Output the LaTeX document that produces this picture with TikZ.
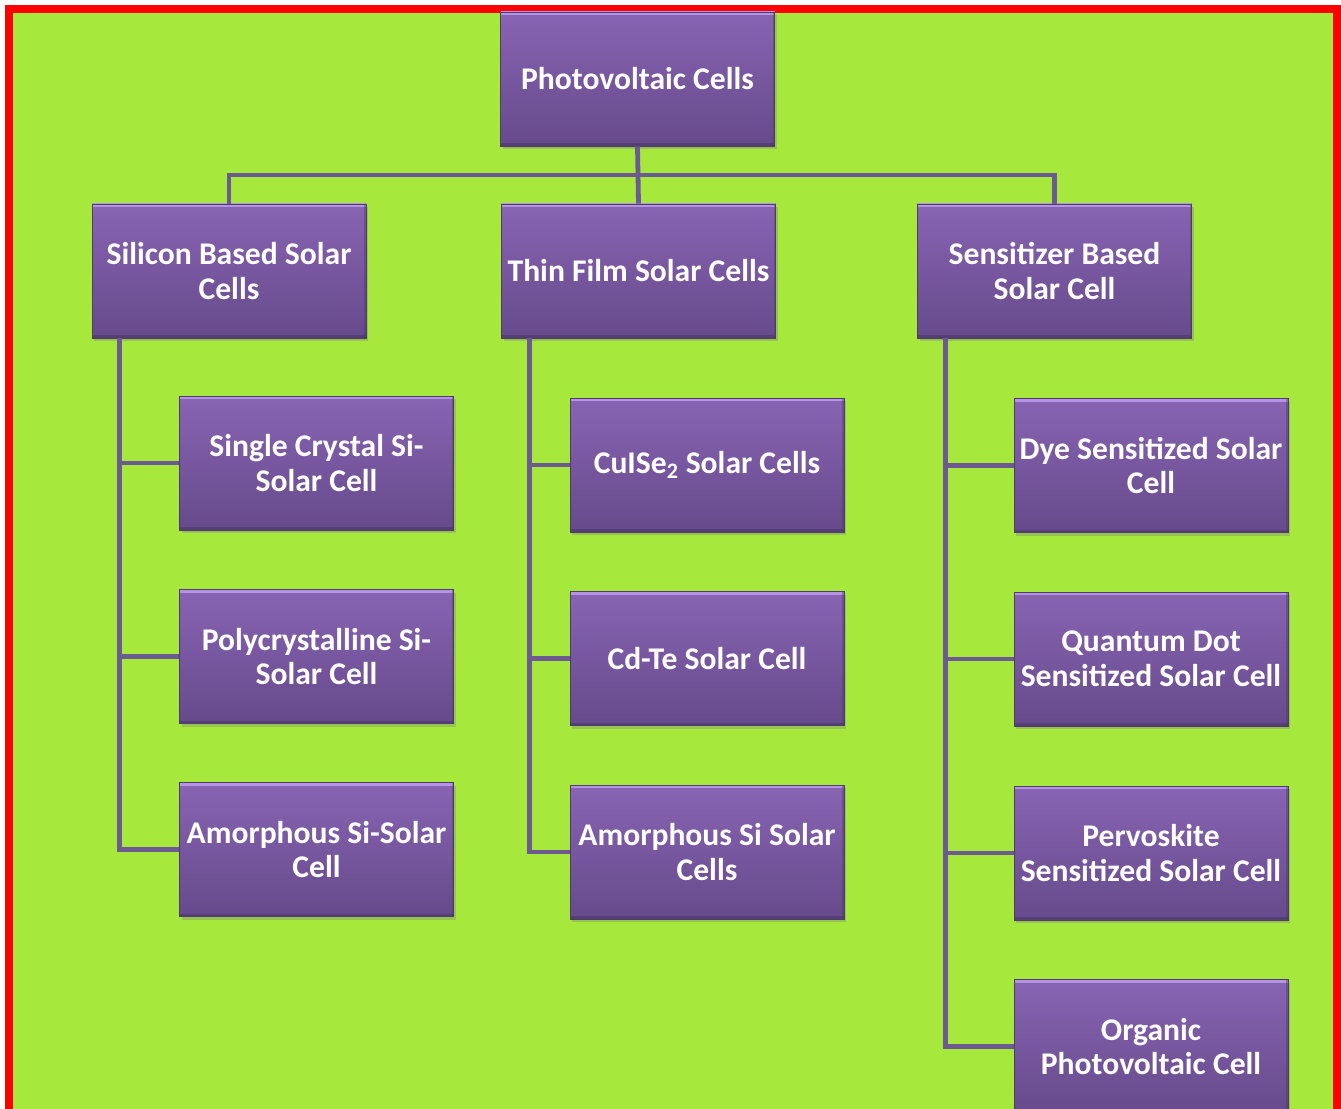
\documentclass[tikz,border=0pt]{standalone}
\usepackage{fontspec}
\setmainfont{Carlito}
\usetikzlibrary{shadows}

\definecolor{leafgreen}{HTML}{A6E83C}
\definecolor{framered}{HTML}{FF0000}
\definecolor{boxtop}{HTML}{8864B3}
\definecolor{boxbottom}{HTML}{664A8B}
\definecolor{boxedge}{HTML}{4F3C6E}
\definecolor{bevlight}{HTML}{B594E6}
\definecolor{bevdark}{HTML}{4A3766}
\definecolor{linkpurple}{HTML}{6E5A92}

\tikzset{every picture/.style={line width=0.75pt}}
\tikzset{
  cellbox/.style={rectangle, minimum width=205.5pt, minimum height=100.5pt, inner sep=2pt,
    top color=boxtop, bottom color=boxbottom, draw=boxedge, line width=0.6pt,
    text=white, font=\fontsize{23.7}{26}\selectfont\bfseries, align=center,
    drop shadow={shadow xshift=1.5pt, shadow yshift=-2.5pt, opacity=0.35},
    path picture={
      \draw[bevlight, line width=5pt] (path picture bounding box.north west) -- (path picture bounding box.north east);
      \draw[bevdark, line width=4pt, opacity=0.6] (path picture bounding box.south west) -- (path picture bounding box.south east);
      \draw[bevdark, line width=3pt, opacity=0.4] (path picture bounding box.north east) -- (path picture bounding box.south east);
    }},
  link/.style={draw=linkpurple, line width=3.6pt}
}

\begin{document}
\begin{tikzpicture}[x=0.75pt,y=0.75pt,yscale=-1,xscale=1]

\useasboundingbox (0,0) rectangle (1341,1109);
\clip (0,0) rectangle (1341,1109);
\fill[white] (0,0) rectangle (1341,1109);
\fill[framered] (5,5) rectangle (1350,1130);
\fill[leafgreen] (13,13) rectangle (1333,1130);

% top level
\draw (637.5,79) node [cellbox] (root) {Photovoltaic Cells};

\draw (229,271) node [cellbox] (sil) {Silicon Based Solar\\Cells};
\draw (638.5,271) node [cellbox] (thin) {Thin Film Solar Cells};
\draw (1054.5,271) node [cellbox] (sens) {Sensitizer Based\\Solar Cell};

% silicon branch
\draw (316.5,463) node [cellbox] (sil1) {Single Crystal Si-\\Solar Cell};
\draw (316.5,656.5) node [cellbox] (sil2) {Polycrystalline Si-\\Solar Cell};
\draw (316.5,849.5) node [cellbox] (sil3) {Amorphous Si-Solar\\Cell};

% thin film branch
\draw (707,465) node [cellbox] (thin1) {CuISe\textsubscript{2} Solar Cells};
\draw (707,658.5) node [cellbox] (thin2) {Cd-Te Solar Cell};
\draw (707,852) node [cellbox] (thin3) {Amorphous Si Solar\\Cells};

% sensitizer branch
\draw (1151,465.5) node [cellbox] (sens1) {Dye Sensitized Solar\\Cell};
\draw (1151,659) node [cellbox] (sens2) {Quantum Dot\\Sensitized Solar Cell};
\draw (1151,853) node [cellbox] (sens3) {Pervoskite\\Sensitized Solar Cell};
\draw (1151,1046.5) node [cellbox] (sens4) {Organic\\Photovoltaic Cell};

% connectors
\coordinate (bar) at (638,175);
\draw[link] (root.south) -- (thin.north);
\draw[link] (sil.north) |- (bar) -| (sens.north);

\draw[link] ([xshift=21pt]sil.south west) |- (sil1.west);
\draw[link] ([xshift=21pt]sil.south west) |- (sil2.west);
\draw[link] ([xshift=21pt]sil.south west) |- (sil3.west);

\draw[link] ([xshift=21pt]thin.south west) |- (thin1.west);
\draw[link] ([xshift=21pt]thin.south west) |- (thin2.west);
\draw[link] ([xshift=21pt]thin.south west) |- (thin3.west);

\draw[link] ([xshift=21pt]sens.south west) |- (sens1.west);
\draw[link] ([xshift=21pt]sens.south west) |- (sens2.west);
\draw[link] ([xshift=21pt]sens.south west) |- (sens3.west);
\draw[link] ([xshift=21pt]sens.south west) |- (sens4.west);

\end{tikzpicture}
\end{document}
